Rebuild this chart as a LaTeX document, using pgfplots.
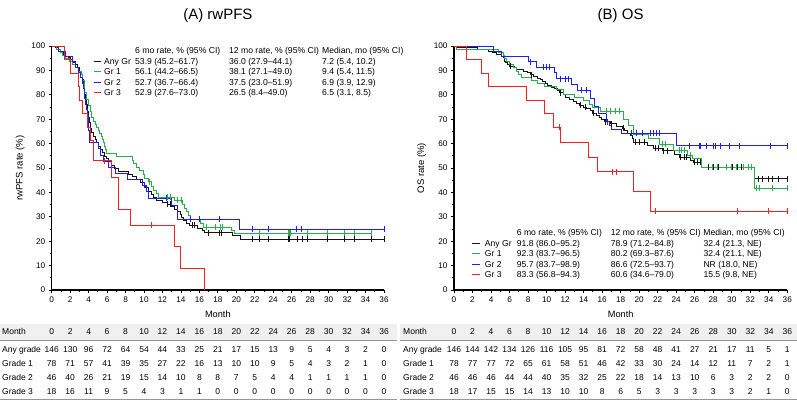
\documentclass[border=0pt]{standalone}
\usepackage{pgfplots}
\pgfplotsset{compat=1.18}
\usepackage{fontspec}
\setmainfont{Liberation Sans}

\definecolor{kmblack}{RGB}{20,20,20}
\definecolor{kmgreen}{RGB}{40,175,75}
\definecolor{kmblue}{RGB}{30,30,250}
\definecolor{kmred}{RGB}{250,30,30}
\definecolor{bandgray}{RGB}{240,240,240}
\definecolor{rulegray}{RGB}{150,150,150}

\pgfplotsset{
  kmaxis/.style={
    scale only axis, height=244pt,
    xmin=0, xmax=36, ymin=0, ymax=100,
    axis x line*=bottom, axis y line*=left,
    axis line style={line width=1.5pt, -},
    xtick={0,2,...,36}, ytick={0,10,...,100},
    minor x tick num=1, minor y tick num=1,
    tick align=outside, major tick length=3pt, minor tick length=2pt,
    every tick/.style={black, line width=0.8pt},
    ticklabel style={font=\fontsize{8.2}{9}\selectfont},
    /pgf/number format/assume math mode=true,
    clip=false,
    xlabel=Month,
    xlabel style={font=\fontsize{9.2}{11}\selectfont, at={(axis description cs:0.5,-0.1)}, anchor=center},
    ylabel style={font=\fontsize{9.5}{11}\selectfont, anchor=center},
  },
  km/.style={#1, line width=0.95pt, const plot, mark=none},
  cens/.style={#1, only marks, mark=|, mark size=3pt, mark options={line width=0.7pt}},
}

% legend sample line
\newcommand{\smp}[2]{\textcolor{#1}{\rule[2.6pt]{#2}{0.9pt}}}
% number-at-risk row: label x, first column x, column step, baseline y, label, values
\newcommand{\riskrow}[6]{%
  \node[anchor=base west, inner sep=0pt] at (#1pt,#4pt) {#5};
  \foreach \v [count=\i from 0] in {#6}
    \node[anchor=base, inner sep=0pt] at ({#2pt+\i*#3pt},#4pt) {\v};
}

\begin{document}
\begin{tikzpicture}
\path[use as bounding box] (0,0) rectangle (797pt,403pt);

%================ (A) rwPFS ================
\begin{axis}[kmaxis, at={(51.7pt,113pt)}, anchor=south west, width=332.3pt,
  ylabel={rwPFS rate (\%)},
  ylabel style={at={(axis description cs:-0.095,0.5)}}]
% Any grade
\addplot[km=kmblack] coordinates {
(0,100) (0.4,99.3) (0.7,98.6) (0.9,97.9) (1.1,97.3) (1.3,96.6) (1.5,95.9)
(1.8,95.2) (2.0,94.5) (2.2,93.8) (2.4,93.2) (2.6,92.5) (2.8,91.1) (3.0,89.7)
(3.1,88.4) (3.3,86.3) (3.4,84.2) (3.5,82.2) (3.6,80.1) (3.7,78.1) (3.8,76.0)
(3.9,73.3) (4.0,70.5) (4.05,68.5) (4.15,66.4) (4.3,64.4) (4.5,63.0) (4.7,61.6)
(4.9,60.3) (5.1,58.9) (5.3,57.5) (5.5,56.2) (5.7,54.8) (5.95,53.9) (6.2,52.5)
(6.5,51.1) (6.8,49.7) (7.2,48.6) (8.3,47.5) (8.7,46.4) (9.2,45.3) (9.6,44.2)
(10.0,43.0) (10.2,41.9) (10.5,40.2) (10.8,39.0) (11.0,37.9) (11.4,36.8)
(12.0,36.0) (12.5,35.2) (13.0,34.3) (13.3,33.2) (13.6,32.0) (13.9,30.8)
(14.1,29.6) (14.3,28.5) (14.6,27.3) (14.9,26.5) (15.8,25.4) (16.3,24.4)
(16.5,23.4) (19.6,22.3) (20.4,20.9) (36,20.9)};
\addplot[cens=kmblack] coordinates {
(12.5,35.2) (12.8,35.2) (15.2,26.5) (15.5,26.5) (17.0,23.4) (18.2,23.4) (18.4,23.4)
(21.7,20.9) (22.5,20.9) (23.5,20.9) (25.6,20.9) (25.7,20.9) (26.6,20.9) (27.1,20.9)
(27.7,20.9) (29.9,20.9) (31.7,20.9) (32.8,20.9) (34.6,20.9) (36,20.9)};
% Grade 1
\addplot[km=kmgreen] coordinates {
(0,100) (0.5,98.7) (0.9,97.4) (1.2,96.2) (1.5,94.9) (1.9,93.6) (2.3,92.3)
(2.6,91.0) (2.9,89.7) (3.2,88.5) (3.3,85.9) (3.5,83.3) (3.6,80.8) (3.8,78.2)
(4.0,75.6) (4.2,73.1) (4.3,70.5) (4.5,69.2) (4.7,67.9) (4.9,66.7) (5.05,65.4)
(5.2,64.1) (5.4,62.8) (5.5,61.5) (5.6,60.3) (5.7,59.0) (5.8,57.7) (5.9,56.1)
(7.0,54.6) (8.7,53.2) (8.9,51.7) (9.2,50.2) (9.5,48.8) (9.9,47.3) (10.1,45.8)
(10.5,44.3) (10.8,42.6) (11.0,40.9) (11.3,39.6) (11.6,38.1) (13.3,36.8)
(14.2,35.2) (14.4,33.6) (14.6,32.0) (14.8,30.4) (15.0,28.8) (16.1,27.3)
(16.4,25.7) (19.5,24.4) (19.8,23.2) (34.6,23.2)};
\addplot[cens=kmgreen] coordinates {
(10.6,44.3) (12.5,38.1) (12.8,38.1) (13.6,36.8) (14.0,36.8) (16.8,25.7) (17.7,25.7)
(18.3,25.7) (18.5,25.7) (22.5,23.2) (25.6,23.2) (25.7,23.2) (25.8,23.2) (27.7,23.2)
(29.9,23.2) (31.7,23.2) (32.8,23.2) (34.6,23.2)};
% Grade 2
\addplot[km=kmblue] coordinates {
(0,100) (0.7,97.8) (1.5,95.7) (2.2,93.5) (2.6,91.3) (2.9,89.1) (3.1,87.0)
(3.3,84.8) (3.4,82.6) (3.5,80.4) (3.6,78.3) (3.7,76.1) (3.8,73.9) (3.9,71.7)
(4.0,65.2) (4.05,62.6) (4.1,60.4) (5.1,57.8) (5.25,55.3) (5.6,52.7) (6.1,50.2)
(6.9,47.8) (8.2,45.4) (9.8,42.9) (10.3,40.2) (10.5,37.6) (13.0,34.8)
(13.6,28.9) (20.3,24.8) (36,24.8)};
\addplot[cens=kmblue] coordinates {
(5.7,52.7) (10.0,42.9) (12.4,37.6) (15.0,28.9) (16.0,28.9) (18.2,28.9)
(21.7,24.8) (23.5,24.8) (26.5,24.8) (27.0,24.8) (36,24.8)};
% Grade 3
\addplot[km=kmred] coordinates {
(0,100) (1.4,94.4) (2.0,88.9) (2.9,83.3) (3.05,77.8) (3.3,72.2) (3.9,66.7)
(4.15,61.1) (4.5,52.9) (6.5,46.3) (7.2,33.1) (8.55,26.5) (13.25,17.7)
(13.9,8.8) (16.5,0)};
\addplot[cens=kmred] coordinates {(5.7,52.9) (10.8,26.5)};
\end{axis}

%================ (B) OS ================
\begin{axis}[kmaxis, at={(454pt,113pt)}, anchor=south west, width=333.3pt,
  ylabel={OS rate (\%)},
  ylabel style={at={(axis description cs:-0.097,0.5)}}]
% Any grade
\addplot[km=kmblack] coordinates {
(0,100) (0.3,99.3) (2.5,98.6) (3.7,97.9) (4.2,97.3) (4.6,96.6) (5.1,95.9)
(5.3,95.2) (5.4,94.5) (5.5,93.8) (5.6,93.2) (5.8,92.5) (6.0,91.8) (6.5,91.1)
(6.8,90.4) (7.5,89.7) (7.9,89.0) (8.3,88.3) (8.6,87.5) (9.0,86.8) (9.3,86.1)
(9.6,85.4) (9.9,84.6) (10.1,83.9) (10.5,83.2) (10.8,82.4) (11.2,81.7)
(11.4,80.9) (11.8,80.2) (12.0,78.9) (12.5,78.1) (12.9,77.3) (13.2,76.6)
(13.6,75.8) (14.0,75.0) (14.3,74.2) (14.7,73.4) (15.0,72.5) (15.4,71.7)
(15.7,70.8) (15.9,69.9) (16.3,69.0) (16.9,68.1) (17.6,67.2) (18.2,66.2)
(18.4,65.2) (18.7,64.2) (19.1,63.2) (19.3,62.1) (19.4,60.6) (20.9,59.4)
(21.5,58.0) (22.5,57.1) (23.8,55.7) (24.4,54.4) (25.5,53.0) (25.9,52.4)
(26.7,50.3) (32.5,45.6) (36,45.6)};
\addplot[cens=kmblack] coordinates {
(6.1,91.8) (8.4,88.3) (11.5,80.9) (13.7,75.8) (14.2,75.0) (15.1,72.5) (16.4,69.0)
(17.0,68.1) (18.3,66.2) (19.6,60.6) (20.0,60.6) (20.6,60.6) (21.8,58.0) (22.1,58.0)
(22.6,57.1) (23.0,57.1) (24.5,54.4) (24.9,54.4) (25.1,54.4) (26.0,52.4) (26.3,52.4)
(26.6,52.4) (27.5,50.3) (28.0,50.3) (28.6,50.3) (29.4,50.3) (30.1,50.3) (30.6,50.3)
(31.0,50.3) (32.9,45.6) (33.3,45.6) (34.0,45.6) (34.4,45.6) (35.0,45.6) (36,45.6)};
% Grade 1
\addplot[km=kmgreen] coordinates {
(0,100) (0.3,98.7) (4.8,97.4) (5.3,96.2) (5.5,94.9) (5.7,93.6) (6.0,92.3)
(6.4,91.0) (6.7,89.7) (7.0,88.5) (7.3,87.2) (8.4,85.9) (9.0,84.6) (9.8,83.3)
(11.1,82.0) (11.8,80.2) (13.0,78.9) (14.0,77.5) (14.6,76.2) (15.0,74.9)
(15.8,73.2) (18.3,69.7) (18.8,67.6) (19.4,63.9) (21.0,62.0) (22.2,59.8)
(23.7,57.2) (25.2,55.3) (25.8,53.8) (26.7,50.3) (32.4,41.8) (36,41.8)};
\addplot[cens=kmgreen] coordinates {
(16.5,73.2) (16.9,73.2) (17.4,73.2) (17.9,73.2) (22.5,59.8) (22.8,59.8)
(24.3,57.2) (24.6,57.2) (24.9,57.2) (25.5,55.3) (27.9,50.3) (28.4,50.3)
(29.4,50.3) (30.0,50.3) (30.5,50.3) (31.3,50.3) (31.8,50.3) (32.1,50.3)
(32.7,41.8) (33.0,41.8) (34.4,41.8) (36,41.8)};
% Grade 2
\addplot[km=kmblue] coordinates {
(0,100) (4.25,97.8) (5.15,95.7) (8.0,93.5) (8.9,91.3) (10.9,89.0) (11.1,86.6)
(12.7,84.2) (13.3,81.9) (14.7,78.5) (15.2,75.4) (15.6,72.3) (16.5,69.0)
(16.8,67.4) (17.0,65.8) (18.1,64.2) (24.05,59.2) (36,59.2)};
\addplot[cens=kmblue] coordinates {
(8.2,93.5) (9.6,91.3) (10.0,91.3) (10.3,91.3) (11.5,86.6) (12.0,86.6) (12.4,86.6)
(13.8,81.9) (14.3,81.9) (16.6,69.0) (19.2,64.2) (19.7,64.2) (20.3,64.2) (21.2,64.2)
(21.5,64.2) (21.9,64.2) (22.2,64.2) (25.4,59.2) (26.5,59.2) (26.6,59.2) (27.3,59.2)
(28.0,59.2) (28.2,59.2) (28.8,59.2) (29.7,59.2) (30.8,59.2) (34.2,59.2) (36,59.2)};
% Grade 3
\addplot[km=kmred] coordinates {
(0,100) (1.37,94.4) (3.0,88.9) (3.7,83.3) (7.85,77.8) (9.8,72.2) (10.7,66.7)
(11.5,60.6) (14.5,54.5) (15.5,48.5) (19.4,40.4) (21.2,32.3) (36,32.3)};
\addplot[cens=kmred] coordinates {
(11.4,66.7) (17.1,48.5) (17.5,48.5) (21.7,32.3) (30.6,32.3) (33.9,32.3) (36,32.3)};
\end{axis}

% panel titles
\node[font=\fontsize{15}{18}\selectfont] at (217.9pt,387pt) {(A) rwPFS};
\node[font=\fontsize{15}{18}\selectfont] at (620.6pt,387pt) {(B) OS};

% rate tables inside the plots
\node[anchor=north west, inner sep=0pt, font=\fontsize{8.6}{10.5}\selectfont] at (94pt,356.7pt) {%
\begin{tabular}{@{}p{41pt}@{}p{94pt}@{}p{93pt}@{}l@{}}
 & 6 mo rate, \% (95\% CI) & 12 mo rate, \% (95\% CI) & Median, mo (95\% CI)\\
\smp{kmblack}{7pt}\hspace{3pt}Any Gr & 53.9 (45.2–61.7) & 36.0 (27.9–44.1) & 7.2 (5.4, 10.2)\\
\smp{kmgreen}{7pt}\hspace{3pt}Gr 1 & 56.1 (44.2–66.5) & 38.1 (27.1–49.0) & 9.4 (5.4, 11.5)\\
\smp{kmblue}{7pt}\hspace{3pt}Gr 2 & 52.7 (36.7–66.4) & 37.5 (23.0–51.9) & 6.9 (3.9, 12.9)\\
\smp{kmred}{7pt}\hspace{3pt}Gr 3 & 52.9 (27.6–73.0) & 26.5 (8.4–49.0) & 6.5 (3.1, 8.5)
\end{tabular}};
\node[anchor=north west, inner sep=0pt, font=\fontsize{8.6}{10.5}\selectfont] at (471.7pt,175pt) {%
\begin{tabular}{@{}p{45pt}@{}p{94pt}@{}p{92.6pt}@{}l@{}}
 & 6 mo rate, \% (95\% CI) & 12 mo rate, \% (95\% CI) & Median, mo (95\% CI)\\
\smp{kmblack}{8pt}\hspace{5pt}Any Gr & 91.8 (86.0–95.2) & 78.9 (71.2–84.8) & 32.4 (21.3, NE)\\
\smp{kmgreen}{8pt}\hspace{5pt}Gr 1 & 92.3 (83.7–96.5) & 80.2 (69.3–87.6) & 32.4 (21.1, NE)\\
\smp{kmblue}{8pt}\hspace{5pt}Gr 2 & 95.7 (83.7–98.9) & 86.6 (72.5–93.7) & NR (18.0, NE)\\
\smp{kmred}{8pt}\hspace{5pt}Gr 3 & 83.3 (56.8–94.3) & 60.6 (34.6–79.0) & 15.5 (9.8, NE)
\end{tabular}};

% numbers at risk
\fill[bandgray] (0,63pt) rectangle (397pt,79pt);
\fill[bandgray] (400pt,63pt) rectangle (797pt,79pt);
\draw[rulegray, line width=0.8pt] (0,63pt) -- (397pt,63pt) (400pt,63pt) -- (797pt,63pt);
\draw[rulegray, line width=0.8pt] (0,4pt) -- (397pt,4pt) (400pt,4pt) -- (797pt,4pt);
\begin{scope}[font=\fontsize{8.5}{10}\selectfont]
\riskrow{2}{51.7}{18.462}{68}{Month}{0,2,4,6,8,10,12,14,16,18,20,22,24,26,28,30,32,34,36}
\riskrow{2}{51.7}{18.462}{50.5}{Any grade}{146,130,96,72,64,54,44,33,25,21,17,15,13,9,5,4,3,2,0}
\riskrow{2}{51.7}{18.462}{36.5}{Grade 1}{78,71,57,41,39,35,27,22,16,13,10,10,9,5,4,3,2,1,0}
\riskrow{2}{51.7}{18.462}{22.5}{Grade 2}{46,40,26,21,19,15,14,10,8,8,7,5,4,4,1,1,1,1,0}
\riskrow{2}{51.7}{18.462}{8.5}{Grade 3}{18,16,11,9,5,4,3,1,1,0,0,0,0,0,0,0,0,0,0}
\riskrow{403}{454}{18.517}{68}{Month}{0,2,4,6,8,10,12,14,16,18,20,22,24,26,28,30,32,34,36}
\riskrow{403}{454}{18.517}{50.5}{Any grade}{146,144,142,134,126,116,105,95,81,72,58,48,41,27,21,17,11,5,1}
\riskrow{403}{454}{18.517}{36.5}{Grade 1}{78,77,77,72,65,61,58,51,46,42,33,30,24,14,12,11,7,2,1}
\riskrow{403}{454}{18.517}{22.5}{Grade 2}{46,46,46,44,44,40,35,32,25,22,18,14,13,10,6,3,2,2,0}
\riskrow{403}{454}{18.517}{8.5}{Grade 3}{18,17,15,15,14,13,10,10,8,6,5,3,3,3,3,3,2,1,0}
\end{scope}
\end{tikzpicture}
\end{document}
